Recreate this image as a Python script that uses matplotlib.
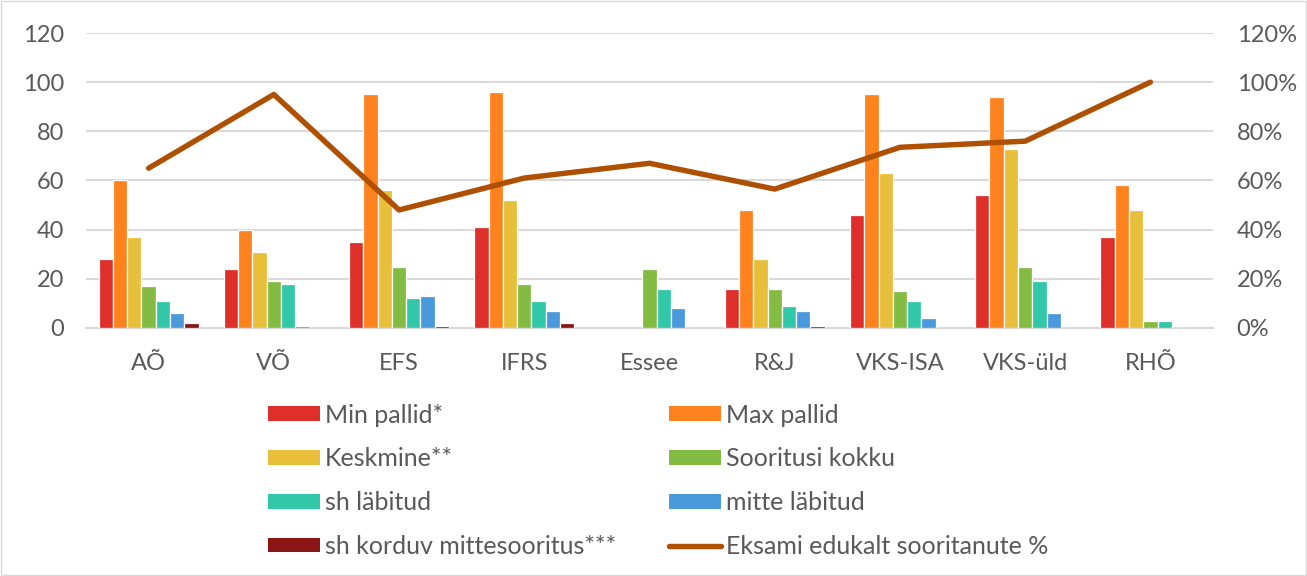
import numpy as np
import matplotlib
matplotlib.use('Agg')
import matplotlib.pyplot as plt
from matplotlib.patches import Rectangle
from matplotlib.lines import Line2D
from matplotlib.ticker import FuncFormatter

# Data
categories = ['AÕ', 'VÕ', 'EFS', 'IFRS', 'Essee', 'R&J', 'VKS-ISA', 'VKS-üld', 'RHÕ']
min_pallid = [28, 24, 35, 41, 0, 16, 46, 54, 37]
max_pallid = [60, 40, 95, 96, 0, 48, 95, 94, 58]
keskmine = [37, 31, 56, 52, 0, 28, 63, 73, 48]
sooritusi = [17, 19, 25, 18, 24, 16, 15, 25, 3]
labitud = [11, 18, 12, 11, 16, 9, 11, 19, 3]
mitte_labitud = [6, 1, 13, 7, 8, 7, 4, 6, 0]
korduv = [2, 0, 1, 2, 0, 1, 0, 0, 0]
edukalt_pct = [0.65, 0.95, 0.48, 0.61, 0.67, 0.565, 0.735, 0.76, 1.00]

series = [
    ('Min pallid*', min_pallid, '#DF2F2A'),
    ('Max pallid', max_pallid, '#FE821E'),
    ('Keskmine**', keskmine, '#E8BF3A'),
    ('Sooritusi kokku', sooritusi, '#84BB43'),
    ('sh läbitud', labitud, '#33C7AA'),
    ('mitte läbitud', mitte_labitud, '#4A9ADB'),
    ('sh korduv mittesooritus***', korduv, '#8B1515'),
]
line_label = 'Eksami edukalt sooritanute %'
line_color = '#AE5000'

text_color = '#595959'
grid_color = '#D9D9D9'
plt.rcParams['font.family'] = ['Lato', 'DejaVu Sans']

fig = plt.figure(figsize=(13.07, 5.76), dpi=100)
ax = fig.add_axes([0.0658, 0.4306, 0.8623, 0.5121])

x = np.arange(len(categories))
n = len(series)
bw = 0.114
handles = {}
for i, (name, vals, col) in enumerate(series):
    offs = (i - (n - 1) / 2) * bw
    ax.bar(x + offs, vals, width=bw, color=col, edgecolor='white',
           linewidth=0.9, zorder=3, label=name)
    handles[name] = Rectangle((0, 0), 1, 1, facecolor=col, edgecolor='none')

ax.set_xlim(-0.5, len(categories) - 0.5)
ax.set_ylim(0, 120)
ax.set_yticks(range(0, 121, 20))
ax.yaxis.grid(True, color=grid_color, linewidth=1.5, zorder=0)
ax.set_axisbelow(True)
for s in ['top', 'right', 'left']:
    ax.spines[s].set_visible(False)
ax.spines['bottom'].set_color(grid_color)
ax.spines['bottom'].set_linewidth(1.5)
ax.set_xticks(x)
ax.set_xticklabels(categories)
ax.tick_params(axis='both', length=0, labelsize=17, colors=text_color)
ax.tick_params(axis='x', pad=18)
ax.tick_params(axis='y', pad=16)

ax2 = ax.twinx()
ax2.plot(x, edukalt_pct, color=line_color, linewidth=3.9,
         solid_capstyle='round', solid_joinstyle='round', zorder=5)
ax2.set_ylim(0, 1.2)
ax2.set_yticks(np.arange(0, 1.21, 0.2))
ax2.yaxis.set_major_formatter(FuncFormatter(lambda v, p: f'{v * 100:.0f}%'))
ax2.tick_params(axis='y', length=0, labelsize=17, colors=text_color, pad=17)
for s in ax2.spines.values():
    s.set_visible(False)

line_handle = Line2D([0], [0], color=line_color, linewidth=3.9, solid_capstyle='round')

left_names = ['Min pallid*', 'Keskmine**', 'sh läbitud', 'sh korduv mittesooritus***']
right_names = ['Max pallid', 'Sooritusi kokku', 'mitte läbitud']
leg_kw = dict(frameon=False, fontsize=18, labelcolor=text_color, handlelength=2.08,
              handleheight=0.52, handletextpad=0.2, labelspacing=0.83, borderpad=0,
              loc='upper left')
fig.legend([handles[nm] for nm in left_names], left_names,
           bbox_to_anchor=(0.1955, 0.321), **leg_kw)
fig.legend([handles[nm] for nm in right_names] + [line_handle],
           right_names + [line_label],
           bbox_to_anchor=(0.502, 0.321), **leg_kw)

fig.patches.append(Rectangle((0.0008, 0.0015), 0.9984, 0.997, transform=fig.transFigure,
                             fill=False, edgecolor=grid_color, linewidth=1))

fig.savefig('out.png', dpi=100)
